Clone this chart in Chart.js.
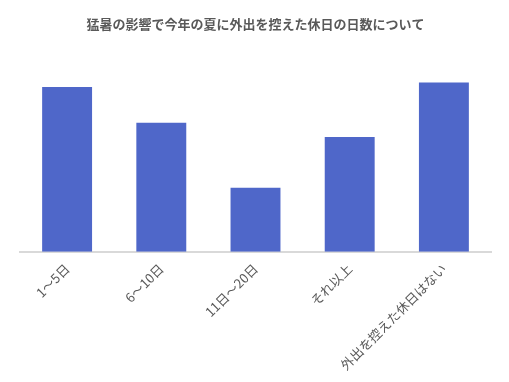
<!DOCTYPE html>
<html>
<head>
<meta charset="utf-8">
<script src="https://cdn.jsdelivr.net/npm/chart.js@4"></script>
<style>
  html, body { margin: 0; padding: 0; background: #fff; }
  #wrap { width: 509px; height: 382px; }
</style>
</head>
<body>
<div id="wrap"><canvas id="chart"></canvas></div>
<script>
var categories = ["1～5日", "6～10日", "11日～20日", "それ以上", "外出を控えた休日はない"];
var values = [25.7, 20.1, 10.0, 17.9, 26.4];
var titleText = "猛暑の影響で今年の夏に外出を控えた休日の日数について";

var ctx = document.getElementById("chart").getContext('2d');
var chart = new Chart(ctx, {
  type: 'bar',
  data: {
    labels: categories,
    datasets: [{
      data: values,
      backgroundColor: "#4f67c9",
      barPercentage: 0.53,
      categoryPercentage: 1.0
    }]
  },
  options: {
    responsive: true,
    maintainAspectRatio: false,
    animation: false,
    layout: { padding: { left: 20, right: 18, top: 4, bottom: 0 } },
    plugins: {
      legend: { display: false },
      tooltip: { enabled: false },
      title: {
        display: true,
        text: titleText,
        color: "#595959",
        font: { family: "'Noto Sans CJK JP', sans-serif", size: 13, weight: 'bold' },
        padding: { top: 12, bottom: 20 }
      }
    },
    scales: {
      x: {
        grid: { display: false, drawTicks: false },
        border: { display: true, color: "#d9d9d9", width: 2 },
        ticks: {
          color: "#595959",
          font: { family: "'Noto Sans CJK JP', sans-serif", size: 13 },
          maxRotation: 45,
          minRotation: 45,
          padding: 9
        }
      },
      y: {
        display: false,
        min: 0,
        max: 31.2
      }
    }
  }
});
</script>
</body>
</html>
